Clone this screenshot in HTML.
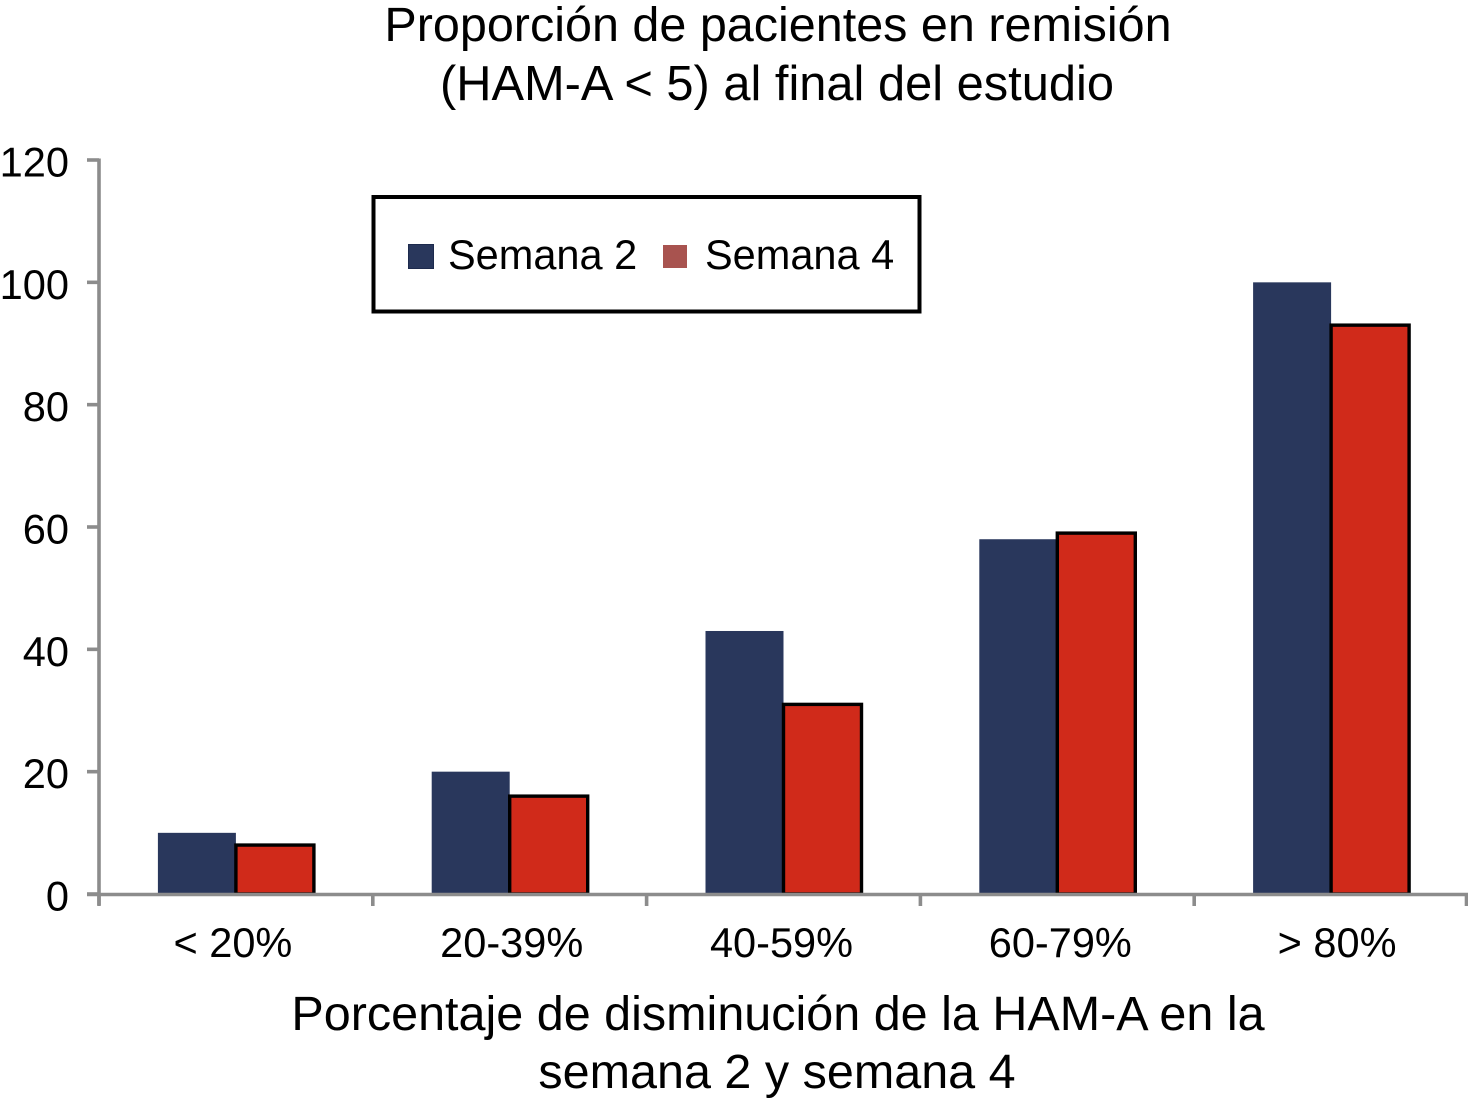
<!DOCTYPE html>
<html lang="es">
<head>
<meta charset="utf-8">
<title>Proporción de pacientes en remisión</title>
<style>
html,body{margin:0;padding:0;background:#fff;width:1468px;height:1099px;overflow:hidden}
svg{display:block}
text{font-family:"Liberation Sans",Arial,sans-serif;fill:#000}
</style>
</head>
<body>
<svg id="chart" xmlns="http://www.w3.org/2000/svg" width="1468" height="1099" viewBox="0 0 1468 1099">
  <rect x="0" y="0" width="1468" height="1099" fill="#fff"/>
  <g font-size="48.5" text-anchor="middle">
    <text x="778" y="41">Proporción de pacientes en remisión</text>
    <text x="777" y="100" font-size="48.8">(HAM-A &lt; 5) al final del estudio</text>
  </g>
  <g id="bars"></g>
  <g id="axes"></g>
  <g>
    <rect x="373.5" y="197" width="546" height="114.5" fill="#fff" stroke="#000" stroke-width="4"/>
    <rect x="408.5" y="244.5" width="25" height="24" fill="#29375c" stroke="#1d2a4d" stroke-width="1"/>
    <text x="448" y="269" font-size="41.5">Semana 2</text>
    <rect x="663" y="245" width="24" height="23" fill="#a8534f"/>
    <text x="705" y="269" font-size="41.5">Semana 4</text>
  </g>
  <g font-size="48.5" text-anchor="middle">
    <text x="778" y="1030">Porcentaje de disminución de la HAM-A en la</text>
    <text x="777" y="1088">semana 2 y semana 4</text>
  </g>
</svg>
<script>
const categories = ['< 20%', '20-39%', '40-59%', '60-79%', '> 80%'];
const semana2 = [10, 20, 43, 58, 100];
const semana4 = [8, 16, 31, 59, 93];
const yTicks = [0, 20, 40, 60, 80, 100, 120];

const plotLeft = 99, plotRight = 1468, plotBottom = 894, plotTop = 160, yMax = 120;
const barWidth = 78;
const catLabelNudge = [-3, 2, -2, 3, 6];
const NS = 'http://www.w3.org/2000/svg';

function yScale(v) { return plotBottom - (v / yMax) * (plotBottom - plotTop); }
function xBand(i) { return plotLeft + (i + 0.5) * (plotRight - plotLeft) / categories.length; }
function make(tag, attrs, parent) {
  const el = document.createElementNS(NS, tag);
  for (const k in attrs) el.setAttribute(k, attrs[k]);
  parent.appendChild(el);
  return el;
}

const axes = document.getElementById('axes');
const bars = document.getElementById('bars');
const axisColor = '#8c8c8c';

const yAxis = make('line', {x1: plotLeft, x2: plotLeft, y1: plotTop - 1.5, y2: plotBottom + 11, stroke: axisColor, 'stroke-width': 3.6}, axes);



const xAxis = make('line', {x1: plotLeft - 12, x2: plotRight, y1: plotBottom + 0.5, y2: plotBottom + 0.5, stroke: axisColor, 'stroke-width': 3.6}, axes);



yTicks.forEach(function (t) {
  const y = yScale(t);
  const tick = make('line', {x1: plotLeft - 12, x2: plotLeft, y1: y, y2: y, stroke: axisColor, 'stroke-width': 3.6}, axes);
  
  
  const label = make('text', {x: 69, y: y + 16.5, 'text-anchor': 'end', 'font-size': 41.6}, axes);
  
  
  label.textContent = String(t);
});

for (let i = 0; i <= categories.length; i++) {
  const x = Math.min(plotLeft + i * (plotRight - plotLeft) / categories.length, plotRight - 1.5);
  const tick = make('line', {x1: x, x2: x, y1: plotBottom, y2: plotBottom + 12, stroke: axisColor, 'stroke-width': 3.6}, axes);
  
  
}

categories.forEach(function (c, i) {
  const label = make('text', {x: xBand(i) + catLabelNudge[i], y: 957, 'text-anchor': 'middle', 'font-size': 41.5}, axes);
  
  
  label.textContent = c;
});

semana2.forEach(function (v, i) {
  const y = yScale(v);
  const bar = make('rect', {x: xBand(i) - barWidth, y: y, width: barWidth, height: plotBottom - y, fill: '#29375c'}, bars);
  
  
});

semana4.forEach(function (v, i) {
  const y = yScale(v);
  const bar = make('rect', {x: xBand(i), y: y, width: barWidth, height: plotBottom - y, fill: '#d02a1a', stroke: '#000', 'stroke-width': 3.4}, bars);
  
  
});
</script>
</body>
</html>
